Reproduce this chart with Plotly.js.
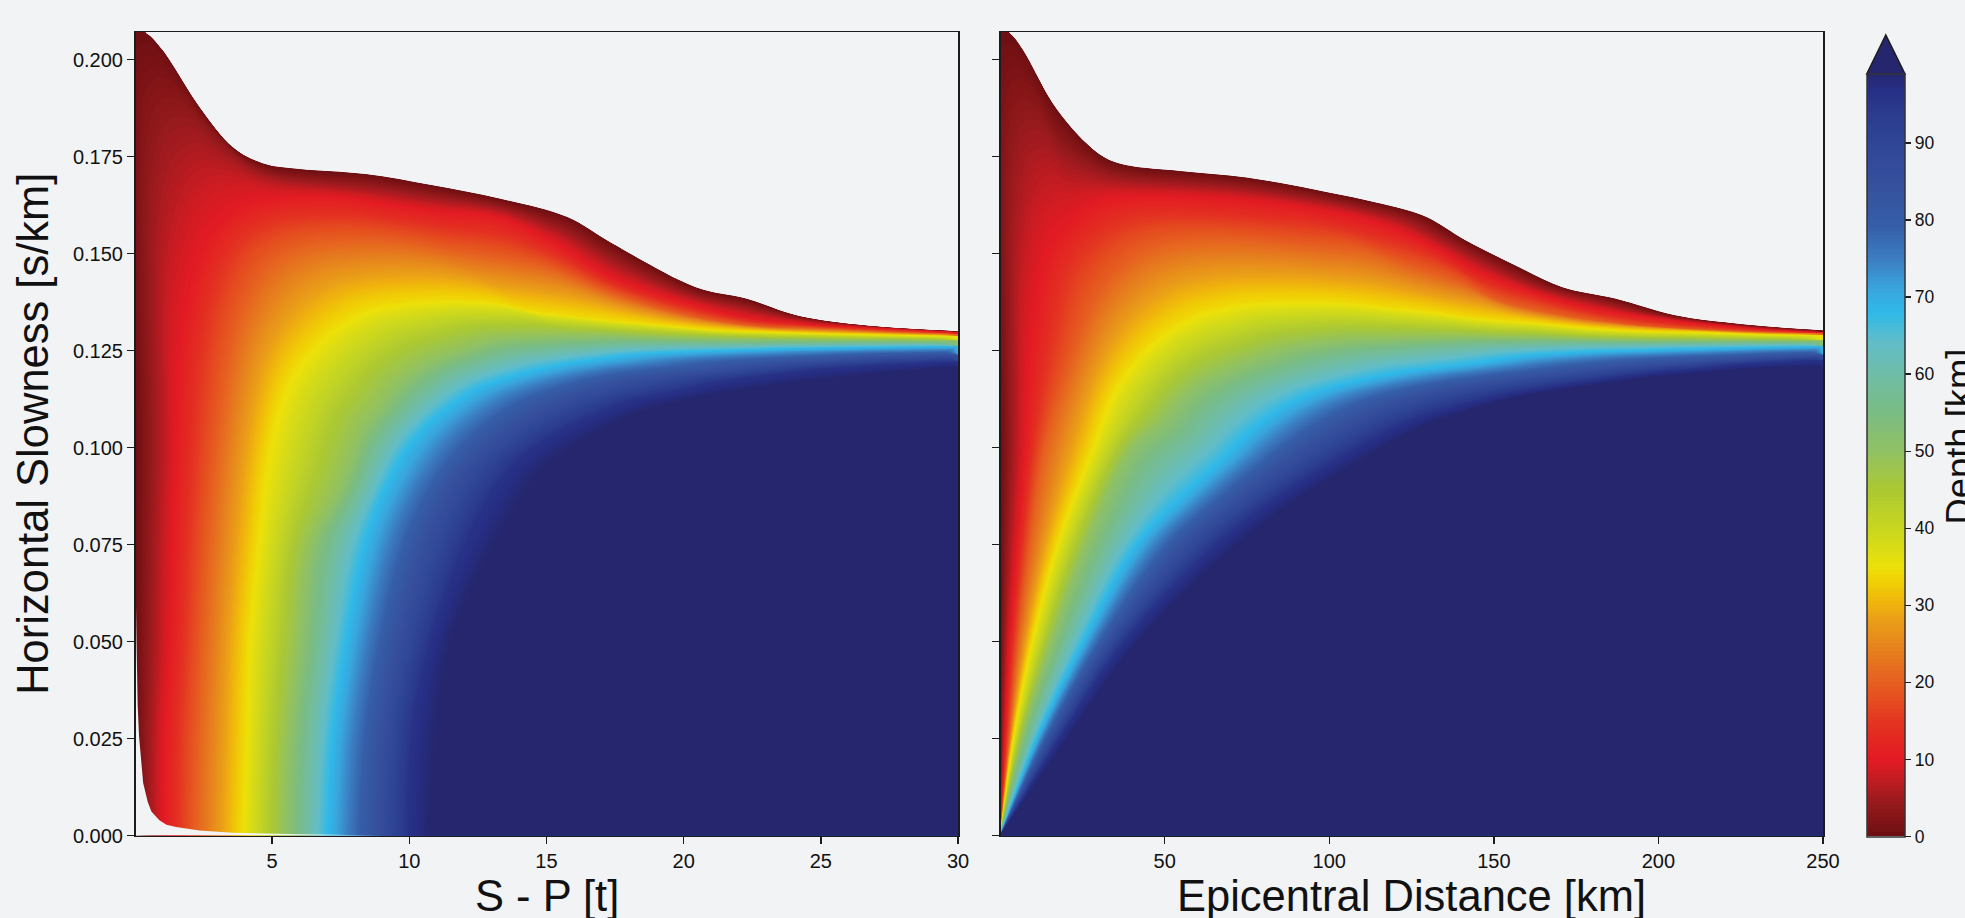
<!DOCTYPE html>
<html><head><meta charset="utf-8">
<script src="https://cdn.plot.ly/plotly-3.0.1.min.js"></script>
<style>html,body{margin:0;padding:0;background:#f1f3f5;overflow:hidden}</style>
</head><body><div id="chart" style="width:1965px;height:918px"></div>
<script>
const depths = [0,10,20,34,50,68,85,96,99,140];
const zeros22 = [0,0,0,0,0,0,0,0,0,0,0,0,0,0,0,0,0,0,0,0,0,0];
const zeros24 = [0,0,0,0,0,0,0,0,0,0,0,0,0,0,0,0,0,0,0,0,0,0,0,0];
// S-P time of each depth line
const spX = [
[0,0,0,0,0,0,.41,1,2.35,3.55,4.65,6,8.4,10.85,13.28,15.76,17.4,20.44,22.27,24.1,26.3,30],
[1.07,1.07,1.26,1.35,1.5,1.62,2.35,3.2,4.3,5.3,6.3,7.5,9,11,13.3,15.35,17.4,19.8,22.27,24.7,27.1,30],
[2.2,2.28,2.45,2.65,2.95,3.46,4,4.78,5.8,6.6,7.6,8.7,10,11.5,13.3,15,17.4,19.85,22.3,24.7,27.1,30],
[3.87,3.99,4.1,4.42,4.84,5.38,6,7.2,8.43,9.64,10.85,12.07,13.3,14.37,15.6,16.8,18.6,21,23.5,25.5,27.7,30],
[5.5,5.63,6,6.42,7.45,8.3,8.9,9.5,10.7,11.9,13.15,14.4,15.4,16.4,17.4,18.6,20,22,24,25.8,27.8,30],
[7.02,7.2,7.69,8.36,9,9.82,10.73,11.94,12.5,13.15,14.37,15.3,16.2,17.1,18,19.85,21,22.3,24,25.8,27.8,30],
[8.84,9.03,9.6,10.77,12,13,13.95,15,15.9,16.9,17.9,18.8,19.8,21,22.2,23.4,24.7,26,27,28,29,30],
[10,10.1,10.8,12.3,13.64,14.6,15.6,16.8,18,19,20,21,22.2,23.4,24.2,25,26,27,27.8,28.5,29.2,30],
[10.7,10.97,11.5,13.4,14.85,15.8,16.8,18,19,20,21,22,23,24,24.7,25.5,26.3,27,27.8,28.5,29.2,30],
[11,12,13,14,15,16,17,18,19,20,21,22,23,24,25,26,27,27.5,28,29,30.5,32]];
// slowness of each depth line, left panel
const spP = [
[0,.025,.05,.075,.1,.2071,.2068,.2025,.1878,.1775,.1733,.1718,.1705,.1676,.1642,.1594,.1526,.1413,.1384,.1341,.1317,.13],
[0,.025,.05,.075,.1,.125,.15,.159,.1635,.1645,.1648,.1645,.163,.161,.1592,.1526,.1439,.138,.1336,.1317,.1307,.1297],
[0,.025,.05,.075,.1,.125,.1375,.147,.1515,.153,.1537,.1537,.1528,.151,.149,.1465,.1397,.1345,.1315,.1307,.1299,.1292],
[0,.025,.05,.075,.1,.1147,.1225,.131,.1358,.1374,.138,.138,.1372,.1353,.1342,.1332,.132,.1304,.1297,.1293,.129,.1287],
[0,.025,.05,.075,.089,.1045,.11,.1156,.1217,.125,.1277,.1283,.1286,.1287,.1287,.1284,.1281,.1279,.1278,.1277,.1276,.1275],
[0,.025,.05,.0749,.0875,.0986,.1063,.113,.1152,.117,.1195,.121,.1221,.123,.1238,.1246,.1249,.1252,.1255,.1257,.1259,.1261],
[0,.025,.05,.0787,.0942,.1012,.1063,.1105,.113,.1152,.117,.118,.1189,.1197,.1208,.1216,.1222,.1227,.1231,.1234,.1236,.1238],
[0,.025,.05,.0787,.0942,.1002,.1045,.1084,.1118,.1135,.1148,.1165,.1178,.1188,.1195,.1202,.1207,.1211,.1214,.1216,.1219,.1222],
[0,.025,.05,.0787,.0942,.0994,.1037,.1079,.1103,.112,.1135,.1147,.1157,.1166,.1172,.1178,.1184,.119,.1195,.12,.1204,.1208],
zeros22];
// epicentral distance of each depth line
const epX = [
[0,0,0,0,0,0,2.9,6.9,16,26.2,32.3,39.4,54.6,74.8,95,118.4,129.5,141.2,156.4,170.6,186.8,205,225.3,250],
[0,1.4,2.9,5.1,7.4,9,14,19,23,30,36,44.4,60,74.8,90,105.2,118,130,145,160,178,200,225,250],
[0,2.7,5.4,9,13.5,22.6,29,36.3,45,54.6,65,75,85,97,110,125.6,133,140.7,151,170.6,181,192,222,250],
[0,3.9,9.5,17,27.7,34.3,42.4,50.5,59.6,67,74.8,85,95,105,115.3,130,141.2,150,161.5,181.7,197,212,230,250],
[0,6.5,15.5,26,40,49,55,61,68,75,85,95,105,115,125,135,145,153,161.5,175,190,205,225,250],
[0,11.1,25.2,41.4,54.6,67.7,74.8,85,95,105.2,115,125.6,135,145.8,153,161.5,170,181,192,205,215,225,237,250],
[0,15,32.8,55,73.6,88.6,98.5,108,120,130,140,150,160,170,180,190,200,208,215,222,228,235,242,250],
[0,18,37.9,64.7,85,103,115,125.6,135,145.8,153,161.5,170,180,192,200,208,215,222,228,233,238,244,250],
[0,20.5,42,71,92,111,123,134,144,153,161,170,178,188,198,206,213,220,226,231,235,240,245,250],
[0,12,25,40,60,80,100,120,135,150,165,175,185,195,205,212,218,225,230,235,240,246,255,265]];
// slowness of each depth line, right panel
const epP = [
[0,.025,.05,.075,.1,.2071,.2068,.2025,.1887,.1784,.1745,.1726,.1713,.1696,.1666,.1623,.1594,.1535,.147,.1414,.1384,.1341,.1318,.1302],
[0,.025,.05,.075,.1,.125,.15,.1565,.16,.1635,.1645,.1648,.1645,.1637,.1622,.16,.157,.1525,.1455,.1405,.1362,.1332,.1309,.1297],
[0,.025,.05,.075,.1,.125,.1385,.1465,.1515,.1534,.154,.1538,.153,.152,.1509,.1465,.1445,.1423,.138,.1341,.1327,.1315,.13,.1294],
[0,.025,.05,.075,.1,.1147,.1242,.1302,.1345,.1362,.1374,.1378,.1379,.1375,.1365,.1352,.1338,.133,.1323,.1307,.13,.1297,.1292,.1289],
[0,.025,.05,.075,.1,.1065,.1125,.1165,.1195,.1219,.125,.1266,.1276,.1279,.1281,.1283,.1284,.1283,.1283,.128,.1278,.1277,.1276,.1275],
[0,.025,.05,.075,.0869,.0972,.1033,.1098,.1139,.1165,.1183,.1199,.1208,.122,.123,.1238,.1243,.1248,.125,.1253,.1255,.1257,.1259,.1261],
[0,.025,.05,.0741,.0875,.0972,.1028,.1073,.1115,.1138,.1155,.1168,.118,.119,.12,.1208,.1216,.122,.1224,.1227,.123,.1233,.1236,.1238],
[0,.025,.05,.0741,.0875,.0972,.103,.1072,.1098,.1122,.1136,.1149,.116,.1172,.1186,.1194,.12,.1205,.1212,.1215,.1218,.122,.1223,.1225],
[0,.025,.05,.0741,.0875,.0972,.103,.1072,.1098,.112,.1135,.1148,.1158,.117,.1181,.1187,.1192,.1197,.1201,.1204,.1206,.1207,.1208,.1208],
zeros24];
// lower-left edge of the left panel's data
const edgeX = [0,.04,.07,.1,.15,.22,.3,.47,.6,.89,1.15,1.5,1.9,2.35,2.9,3.55,6,9,0];
const edgeP = [.0585,.0585,.045,.0335,.0255,.0198,.0135,.0086,.0062,.0039,.0028,.0022,.0017,.0013,.001,.0007,.0003,0,0];

const stopDepth = [0,2,4,6,8,10,14,18,20,24,28,30,33,35,37,40,45,50,55,60,64,68,71,75,79,85,90,94,97,99];
const stopColor = ['#6b0f13','#801416','#941a1c','#ae1b20','#cc1c22','#e31b23','#e32f22','#e5501f','#e65f20','#e67f1e','#ea9f18','#f0b20e','#f0d005','#ece10a','#dcdc14','#c8d620','#abc834','#90c164','#7abc84','#6fbda9','#62bdc8','#2fb9e9','#3aa5dc','#3b7cc0','#365fa8','#364f9d','#2f4596','#2b3a8d','#262e84','#25266d'];
const colorscale = stopDepth.map((d,i)=>[d/99,stopColor[i]]);

const bg = '#f1f3f5', ink = '#1c1c1c', W = 1965, H = 918;
const pTicks = [0,.025,.05,.075,.1,.125,.15,.175,.2];
const pTickText = ['0.000','0.025','0.050','0.075','0.100','0.125','0.150','0.175','0.200'];
const spTicks = [5,10,15,20,25,30];
const epTicks = [50,100,150,200,250];
const cbTicks = [0,10,20,30,40,50,60,70,80,90];

function carpetTrace(id,X,P,xa,ya){
  const hidden={showgrid:false,showticklabels:'none',showline:false,startline:false,endline:false,minorgridcount:0,type:'linear'};
  return {type:'carpet',carpet:id,a:X[0].map((_,i)=>i),b:depths.map((_,i)=>i),x:X,y:P,xaxis:xa,yaxis:ya,
    aaxis:Object.assign({smoothing:1},hidden),baxis:Object.assign({smoothing:0},hidden)};
}
function fieldTrace(id,X,xa,ya,withBar){
  return {type:'contourcarpet',carpet:id,a:X[0].map((_,i)=>i),b:depths.map((_,i)=>i),
    z:depths.map(h=>X[0].map(()=>h)),xaxis:xa,yaxis:ya,autocontour:false,
    contours:{start:0,end:99,size:0.5,coloring:'fill',showlines:false},line:{width:0},
    colorscale:colorscale,zauto:false,zmin:0,zmax:99,showscale:withBar,
    colorbar:{thicknessmode:'pixels',thickness:38.3,lenmode:'pixels',len:762.5,xref:'paper',yref:'paper',
      x:1866.7/W,xanchor:'left',xpad:0,ypad:0,y:(H-836.5)/H,yanchor:'bottom',
      outlinecolor:'#333',outlinewidth:1.5,tickmode:'array',tickvals:cbTicks,ticktext:cbTicks.map(String),
      ticks:'outside',ticklen:6,tickwidth:1.3,tickcolor:ink,tickfont:{family:'Liberation Sans',size:17.5,color:'#111'},showticklabels:true}};
}
const data=[
  carpetTrace('sp',spX,spP,'x','y'),
  fieldTrace('sp',spX,'x','y',true),
  {type:'scatter',mode:'lines',x:edgeX,y:edgeP,xaxis:'x',yaxis:'y',fill:'toself',fillcolor:bg,line:{width:0},hoverinfo:'skip',showlegend:false},
  carpetTrace('ep',epX,epP,'x2','y2'),
  fieldTrace('ep',epX,'x2','y2',false)
];
const yBase={range:[0,.2071],domain:[(H-835.5)/H,(H-32)/H],tickmode:'array',tickvals:pTicks,ticks:'outside',ticklen:7,tickwidth:1.5,tickcolor:ink,
  showline:true,linecolor:ink,linewidth:1.5,mirror:true,showgrid:false,zeroline:false};
const xBase={ticks:'outside',ticklen:7,tickwidth:1.5,tickcolor:ink,showline:true,linecolor:ink,linewidth:1.5,mirror:true,showgrid:false,zeroline:false,tickmode:'array'};
const tickF={family:'Liberation Sans',size:20,color:'#111'};
const titleF={family:'Liberation Sans',size:43.5,color:'#111'};
function xTitle(text,cx){return {text:text,xref:'paper',yref:'paper',x:cx/W,y:(H-896)/H,xanchor:'center',yanchor:'middle',showarrow:false,font:titleF};}
const layout={width:W,height:H,margin:{l:0,r:0,t:0,b:0,autoexpand:false},paper_bgcolor:bg,plot_bgcolor:bg,showlegend:false,
  font:{family:'Liberation Sans'},
  xaxis:Object.assign({},xBase,{domain:[135.5/W,958/W],range:[0.02,30],tickvals:spTicks,ticktext:spTicks.map(String),tickfont:tickF,anchor:'y'}),
  yaxis:Object.assign({},yBase,{anchor:'x',ticktext:pTickText,tickfont:tickF,title:{text:'Horizontal Slowness [s/km]',font:titleF,standoff:10}}),
  xaxis2:Object.assign({},xBase,{domain:[1000.5/W,1823/W],range:[0.1,250],tickvals:epTicks,ticktext:epTicks.map(String),tickfont:tickF,anchor:'y2'}),
  yaxis2:Object.assign({},yBase,{anchor:'x2',showticklabels:false}),
  shapes:[{type:'path',xref:'paper',yref:'paper',layer:'above',
    path:`M ${1866.7/W} ${(H-74)/H} L ${1885.8/W} ${(H-35)/H} L ${1905/W} ${(H-74)/H} Z`,fillcolor:'#25266d',line:{color:'#1c1c1c',width:1.5}}],
  annotations:[xTitle('S - P [t]',546.7),xTitle('Epicentral Distance [km]',1411.7),
    {text:'Depth [km]',xref:'paper',yref:'paper',x:1959/W,y:(H-436.5)/H,xanchor:'center',yanchor:'middle',textangle:-90,showarrow:false,
    font:{family:'Liberation Sans',size:36.4,color:'#111'}}]
};
Plotly.newPlot('chart',data,layout,{staticPlot:true,displayModeBar:false});
</script></body></html>
